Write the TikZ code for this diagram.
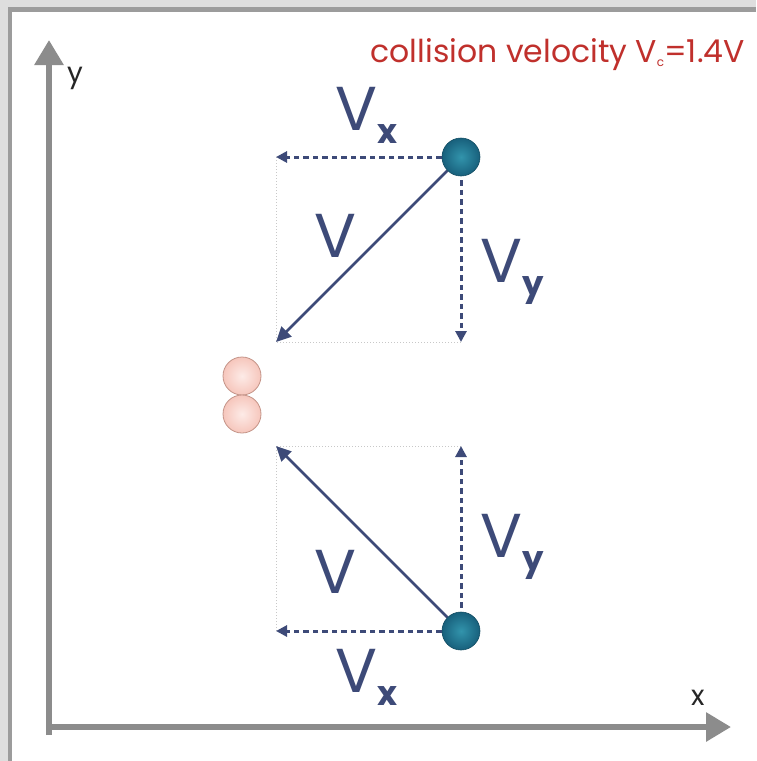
\documentclass[tikz,border=0pt]{standalone}
\usepackage{fontspec}
\setmainfont{Poppins}
\usetikzlibrary{arrows.meta}
\definecolor{navy}{HTML}{3D4A78}
\definecolor{axisgray}{HTML}{8C8C8C}
\definecolor{framegray}{HTML}{9C9C9C}
\definecolor{outergray}{HTML}{DEDEDE}
\definecolor{titlered}{HTML}{C0302C}
\definecolor{tealdark}{HTML}{18607C}
\definecolor{teallight}{HTML}{3294AC}
\definecolor{pinkfill}{HTML}{F6C6BC}
\definecolor{pinklight}{HTML}{FDEBE7}
\definecolor{pinkborder}{HTML}{C49488}
\definecolor{dotgray}{HTML}{C8C8C8}
\tikzset{
  axisarrow/.style={draw=axisgray, line width=6pt, -{Triangle[length=25pt,width=28pt]}},
  comp/.style={draw=navy, line width=3pt, dash pattern=on 5.5pt off 4pt, -{Triangle[length=11pt,width=11pt]}},
  vec/.style={draw=navy, line width=2.8pt, -{Triangle[length=15pt,width=14pt]}},
  guide/.style={draw=dotgray, line width=1pt, dotted},
  ballnode/.style={circle, minimum size=38pt, inner sep=0pt, draw=tealdark!80!black, line width=0.6pt, inner color=teallight, outer color=tealdark},
  pinknode/.style={circle, minimum size=38pt, inner sep=0pt, draw=pinkborder, line width=0.8pt, inner color=pinklight, outer color=pinkfill},
  biglabel/.style={text=navy, font=\fontsize{62}{62}\selectfont, inner sep=0pt, anchor=base west},
  axislabel/.style={text=black!85, font=\fontsize{28}{28}\selectfont, inner sep=0pt, anchor=base west},
}
\newcommand{\subx}[1]{\raisebox{-13pt}{\fontsize{34}{34}\selectfont\bfseries #1}}
\begin{document}
\begin{tikzpicture}[x=1pt, y=-1pt]
  % frame
  \fill[outergray] (0,0) rectangle (756,761);
  \fill[framegray] (8,7) rectangle (756,761);
  \fill[white] (12,12) rectangle (756,761);
  \useasboundingbox (0,0) rectangle (756,761);
  % axes
  \coordinate (ytip) at (49,40);
  \coordinate (xtip) at (731,727);
  \draw[axisarrow] (49,735) -- (ytip);
  \draw[axisarrow] (46,727) -- (xtip);
  \node[axislabel] (ylab) at (67,82) {y};
  \node[axislabel] (xlab) at (691,705) {x};
  % title
  \node[text=titlered, font=\fontsize{31.5}{31.5}\selectfont, inner sep=0pt, anchor=base east] (title) at (745,62)
    {collision velocity V\raisebox{-4pt}{\fontsize{12}{12}\selectfont c}=1.4V};
  % top ball
  \coordinate (tl) at (276,157);
  \coordinate (bl) at (276,342);
  \coordinate (br) at (461,342);
  \draw[guide] (tl) -- (bl) -- (br);
  \node[ballnode] (bt) at (461,157) {};
  \draw[comp] (bt.west) -- (tl);
  \draw[comp] ([yshift=-4pt]bt.south) -- (br);
  \draw[vec] (bt) -- (bl);
  % bottom ball
  \coordinate (tl2) at (276,446);
  \coordinate (tr2) at (461,446);
  \coordinate (bl2) at (276,631);
  \draw[guide] (bl2) -- (tl2) -- (tr2);
  \node[ballnode] (bb) at (461,631) {};
  \draw[comp] (bb.west) -- (bl2);
  \draw[comp] ([yshift=4pt]bb.north) -- (tr2);
  \draw[vec] (bb) -- (tl2);
  % colliding balls
  \node[pinknode] (p1) at (242,376) {};
  \node[pinknode] (p2) at (242,414) {};
  % labels
  \node[biglabel] (vx1) at (335,130) {V\subx{x}};
  \node[biglabel] (v1) at (314,257) {V};
  \node[biglabel] (vy1) at (480,282) {V\subx{y}};
  \node[biglabel] (vy2) at (480,557) {V\subx{y}};
  \node[biglabel] (v2) at (314,593) {V};
  \node[biglabel] (vx2) at (335,692) {V\subx{x}};
\end{tikzpicture}
\end{document}
